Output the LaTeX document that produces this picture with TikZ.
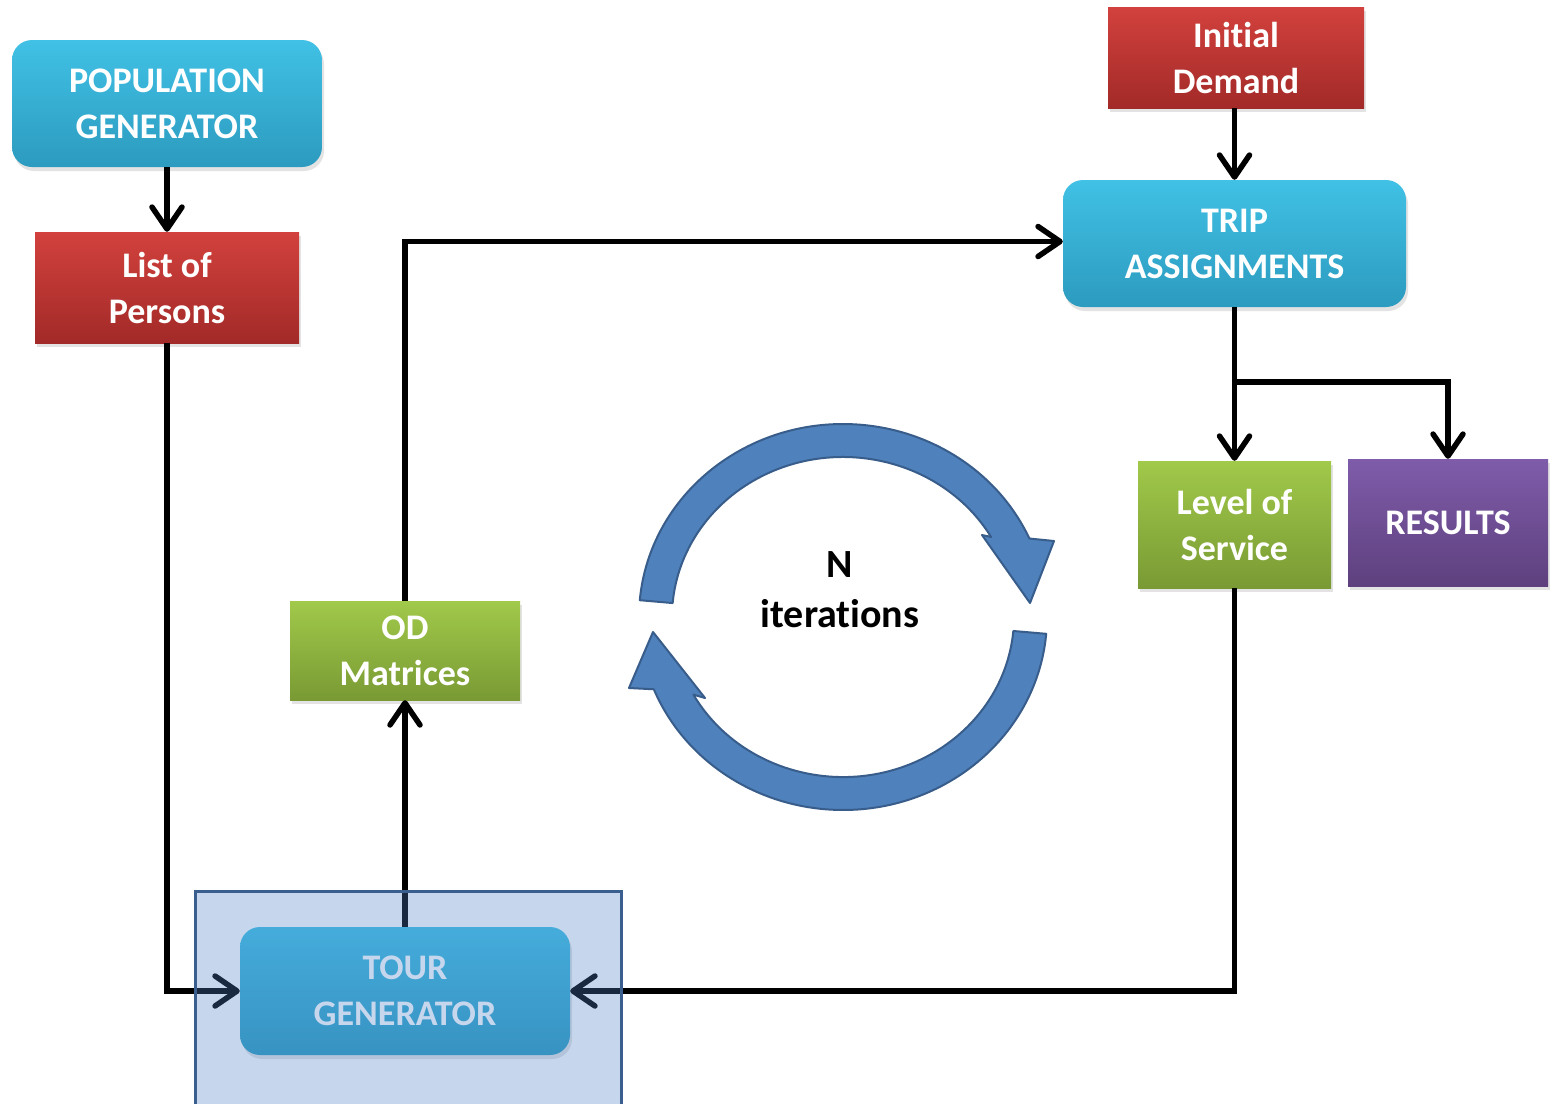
\documentclass[tikz,border=0pt]{standalone}
\usepackage{fontspec}
\setmainfont{Carlito}[Ligatures={NoCommon,NoRare}]
\usetikzlibrary{arrows.meta,shadows,calc}
\definecolor{cyT}{HTML}{40C1E5}
\definecolor{cyB}{HTML}{2C9BBF}
\definecolor{rdT}{HTML}{D2413D}
\definecolor{rdB}{HTML}{A22A28}
\definecolor{grT}{HTML}{A1C94A}
\definecolor{grB}{HTML}{799A34}
\definecolor{puT}{HTML}{7F5CAA}
\definecolor{puB}{HTML}{5E407E}
\definecolor{cycFill}{HTML}{4F81BD}
\definecolor{cycLine}{HTML}{385D8A}
\definecolor{ovFill}{HTML}{5082C8}
\definecolor{ovLine}{HTML}{3A5F8F}
\tikzset{
  box/.style={minimum width=#1, inner sep=0pt, align=center, text=white,
    font=\fontsize{36}{46}\selectfont\bfseries,
    drop shadow={shadow xshift=2pt, shadow yshift=-4pt, opacity=0.22}},
  cyanbox/.style={box=#1, rounded corners=20pt, top color=cyT, bottom color=cyB, minimum height=127pt},
  redbox/.style={box=#1, top color=rdT, bottom color=rdB},
  greenbox/.style={box=#1, top color=grT, bottom color=grB},
  purplebox/.style={box=#1, top color=puT, bottom color=puB},
  conn/.style={line width=5.5pt, draw=black, -{Straight Barb[length=22pt,width=30pt,round]}},
  cyc/.style={fill=cycFill, draw=cycLine, line width=2pt, line join=round}
}
\begin{document}
\begin{tikzpicture}[x=1pt,y=-1pt]
\useasboundingbox[fill=white] (0,0) rectangle (1552,1103);

% boxes
\node[cyanbox=310pt] (pop) at (167,103.5) {POPULATION\\GENERATOR};
\node[redbox=264pt, minimum height=111pt] (list) at (167,287.5) {List of\\Persons};
\node[redbox=256pt, minimum height=101pt] (init) at (1236,57.5) {Initial\\Demand};
\node[cyanbox=343pt] (trip) at (1234.5,243.5) {TRIP\\ASSIGNMENTS};
\node[greenbox=193pt, minimum height=127pt] (los) at (1234.5,524.5) {Level of\\Service};
\node[purplebox=200pt, minimum height=127pt] (res) at (1448,522.5) {RESULTS};
\node[greenbox=230pt, minimum height=99pt] (od) at (405,650.5) {OD\\Matrices};
\node[cyanbox=330pt, minimum height=128pt] (tour) at (405,991) {TOUR\\GENERATOR};

% connectors
\draw[conn] (pop.south) -- (list.north);
\draw[conn] (init.south -| trip.north) -- (trip.north);
\draw[conn] (trip.south) -- (los.north);
\coordinate (br) at (1234.5,382);
\draw[conn] (br) -| (res.north);
\draw[conn] (list.south) |- (tour.west);
\draw[conn] (los.south) |- (tour.east);
\draw[conn] (tour.north) -- (od.south);
\draw[conn] (od.north) |- ($(trip.west)+(0,-2)$);

% iteration cycle
\path[cyc] (639.8,600.2) arc[start angle=185, end angle=336, x radius=204, y radius=193]
  -- (1054,541) -- (1030,603) -- (982,535) -- (991.1,537)
  arc[start angle=330, end angle=185, x radius=171, y radius=160] -- cycle;
\path[cyc] (1046.2,633.8) arc[start angle=5, end angle=158, x radius=204, y radius=193]
  -- (629,688) -- (653,632) -- (705,698) -- (693.4,694.6)
  arc[start angle=151, end angle=5, x radius=171, y radius=160] -- cycle;
\node[align=center, font=\fontsize{40}{50}\selectfont\bfseries] (iter) at (840,590) {N\\iterations};

% translucent frame around the tour generator
\path[fill=ovFill, fill opacity=0.32, draw=ovLine, line width=3pt] (195,891) rectangle (621,1108);
\end{tikzpicture}
\end{document}
